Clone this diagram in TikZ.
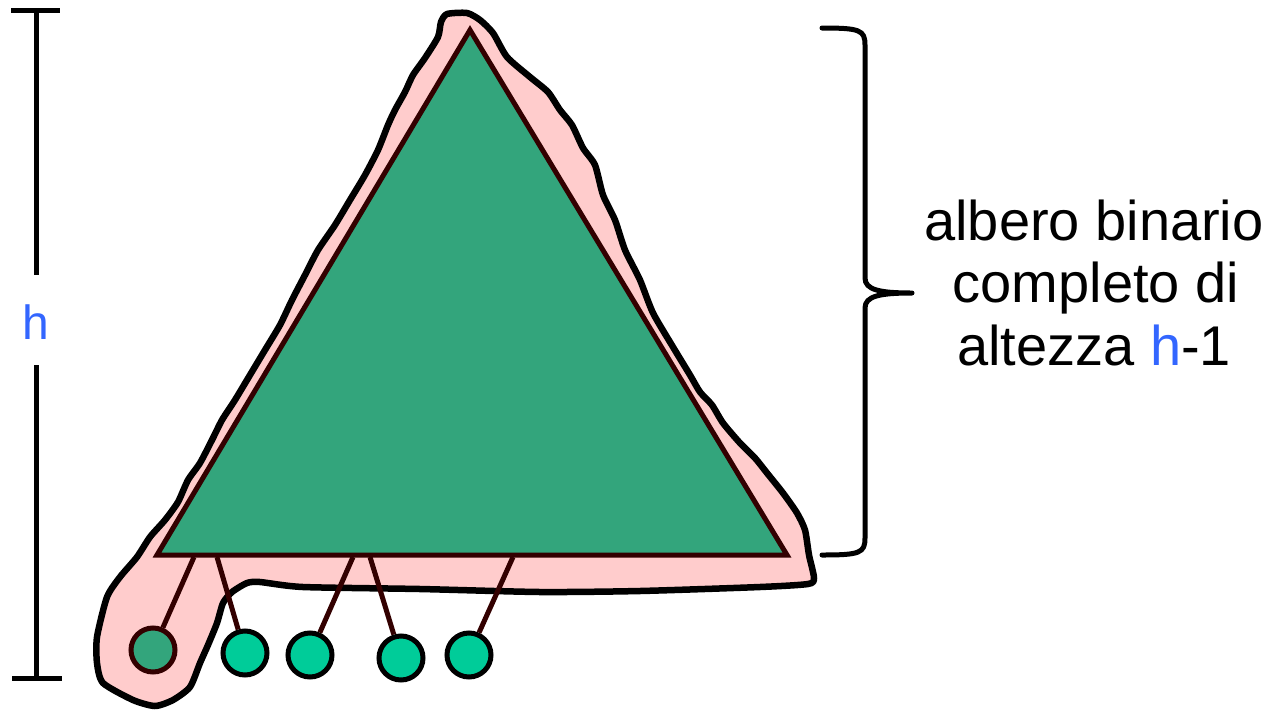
\documentclass[tikz,border=0pt]{standalone}
\usepackage{fontspec}
\setmainfont{Liberation Sans}
\definecolor{trigreen}{HTML}{33A57C}
\definecolor{leafgreen}{HTML}{00CC99}
\definecolor{blobpink}{HTML}{FFCCCC}
\definecolor{darkbrown}{HTML}{330000}
\definecolor{hblue}{HTML}{3366FF}
\tikzset{
  blob/.style={draw=black, fill=blobpink, line width=6.5pt, line join=round},
  tri/.style={draw=darkbrown, fill=trigreen, line width=5pt, line join=miter},
  leaf/.style={circle, draw=black, fill=leafgreen, line width=5pt, minimum size=44pt, inner sep=0pt},
  rootleaf/.style={leaf, draw=darkbrown, fill=trigreen},
  edge/.style={draw=darkbrown, line width=5pt},
  meas/.style={draw=black, line width=5pt},
  lbl/.style={font=\fontsize{56}{62}\selectfont, inner sep=0pt},
}
\begin{document}
\begin{tikzpicture}[x=1pt,y=-1pt]
\useasboundingbox (0,0) rectangle (1272,710);
% pink hand-drawn blob
\path[blob] plot[smooth cycle, tension=0.4] coordinates {
(438,37) (441,22) (447,14) (467,13) (480,20) (493,33) (507,57) (530,77) (548,92) (560,110)
(572,125) (583,148) (595,165) (603,195) (615,220) (625,250) (640,280) (653,313) (673,347)
(690,375) (700,392) (712,405) (723,423) (740,443) (755,458) (767,473) (783,493) (797,513)
(805,530) (809,555) (814,578) (808,584) (760,587) (640,591) (540,592) (420,589) (303,587)
(260,582) (247,583) (232,592) (223,603) (217,623) (208,645) (200,663) (190,687) (173,700)
(155,706) (133,700) (103,683) (97,663) (97,637) (107,597) (120,577) (137,557) (150,537)
(165,520) (178,502) (188,480) (200,463) (212,440) (222,420) (235,400) (250,375) (265,350)
(280,325) (292,300) (305,275) (318,250) (335,225) (350,200) (365,175) (378,150) (388,125)
(395,110) (405,92) (413,75) (425,58)};
% triangle
\coordinate (apex) at (470,30);
\coordinate (bl) at (157,555);
\coordinate (br) at (787,555);
\path[tri] (apex) -- (br) -- (bl) -- cycle;
% base attachment points
\coordinate (b1) at (194,557);
\coordinate (b2) at (217,557);
\coordinate (b3) at (353,557);
\coordinate (b4) at (370,557);
\coordinate (b5) at (513,557);
% leaves
\node[rootleaf] (l1) at (153,650) {};
\node[leaf] (l2) at (245,653) {};
\node[leaf] (l3) at (310,655) {};
\node[leaf] (l4) at (401,658) {};
\node[leaf] (l5) at (469,655) {};
\draw[edge] (b1) -- (l1);
\draw[edge] (b2) -- (l2);
\draw[edge] (b3) -- (l3);
\draw[edge] (b4) -- (l4);
\draw[edge] (b5) -- (l5);
% height measure
\node[font=\fontsize{48}{54}\selectfont, text=hblue, inner sep=0pt] (h) at (36,322) {h};
\coordinate (htop) at (36,10);
\coordinate (hgap1) at (36,275);
\coordinate (hgap2) at (36,365);
\coordinate (hbot) at (36,678);
\draw[meas] (htop) -- (hgap1);
\draw[meas] (hgap2) -- (hbot);
\draw[meas] (11,10) -- (60,10);
\draw[meas] (12,678) -- (62,678);
% brace
\coordinate (brtop) at (822,28);
\coordinate (brtip) at (912,293);
\coordinate (brbot) at (822,555);
\draw[meas, line cap=round, line join=round] (brtop) .. controls (860,28) and (865,30) .. (865,45)
  -- (865,278) .. controls (865,290) and (880,293) .. (brtip)
  .. controls (880,293) and (865,296) .. (865,308)
  -- (865,538) .. controls (865,553) and (860,555) .. (brbot);
% label
\node[lbl, anchor=base] (t1) at (1094,240) {albero binario};
\node[lbl, anchor=base] (t2) at (1096,302) {completo di};
\node[lbl, anchor=base] (t3) at (1094,365) {altezza \textcolor{hblue}{h}-1};
\end{tikzpicture}
\end{document}
